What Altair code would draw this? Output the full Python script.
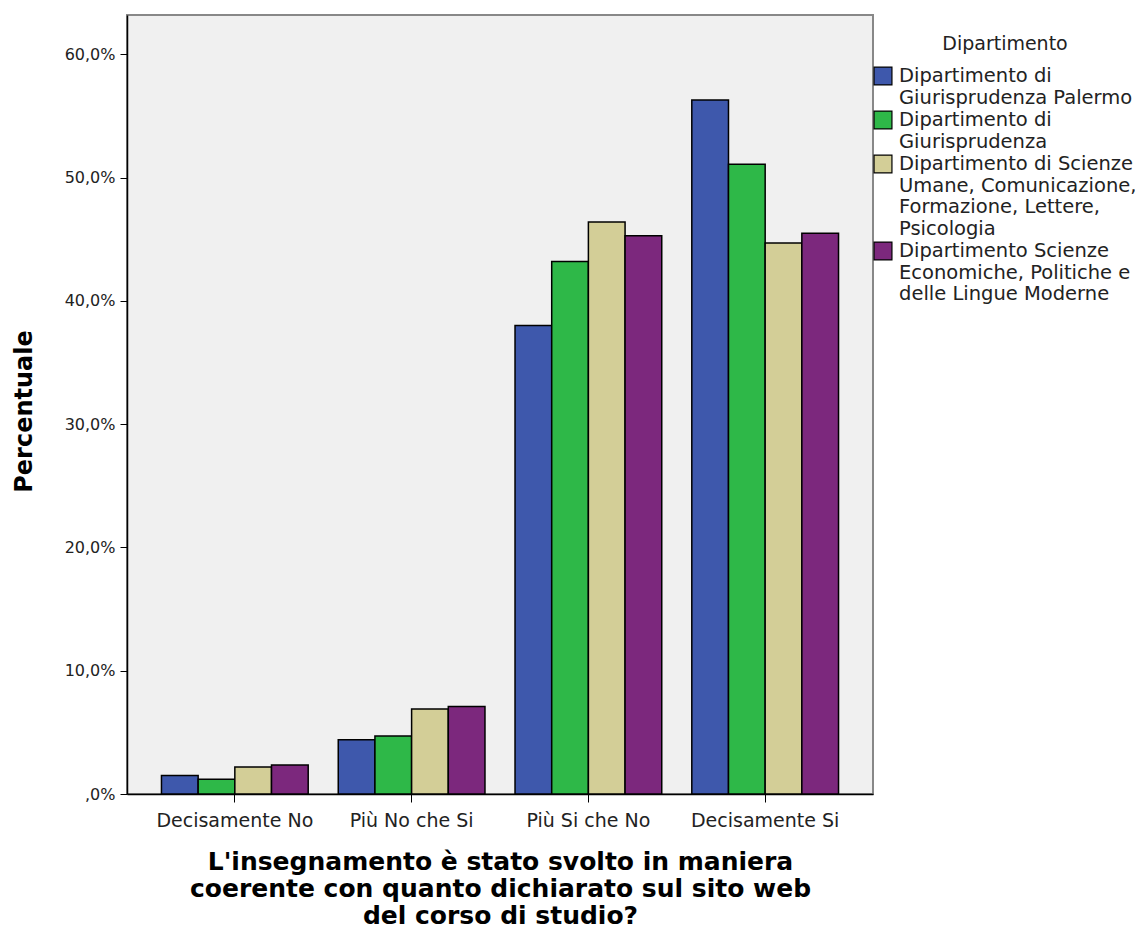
import altair as alt
import pandas as pd

categories = ["Decisamente No", "Più No che Si", "Più Si che No", "Decisamente Si"]
departments = [
    "Dipartimento di\nGiurisprudenza Palermo",
    "Dipartimento di\nGiurisprudenza",
    "Dipartimento di Scienze\nUmane, Comunicazione,\nFormazione, Lettere,\nPsicologia",
    "Dipartimento Scienze\nEconomiche, Politiche e\ndelle Lingue Moderne",
]
colors = ["#3e58ac", "#2eb848", "#d3ce97", "#7c287d"]

# percent values per department, in category order
palermo = [1.5, 4.4, 38.0, 56.3]
giurisprudenza = [1.2, 4.7, 43.2, 51.1]
scienze_umane = [2.2, 6.9, 46.4, 44.7]
economiche = [2.35, 7.1, 45.3, 45.5]

series = [palermo, giurisprudenza, scienze_umane, economiche]
rows = []
for dep, vals in zip(departments, series):
    for cat, v in zip(categories, vals):
        rows.append({"Categoria": cat, "Dipartimento": dep, "Percentuale": v})
df = pd.DataFrame(rows)

FONT = "DejaVu Sans"

chart = alt.Chart(df).mark_bar(stroke="black", strokeWidth=1.5).encode(
    x=alt.X(
        "Categoria:N",
        sort=categories,
        scale=alt.Scale(paddingInner=0.17, paddingOuter=0.195),
        axis=alt.Axis(
            title=["L'insegnamento è stato svolto in maniera",
                   "coerente con quanto dichiarato sul sito web",
                   "del corso di studio?"],
            labelAngle=0,
            labelFontSize=19,
            labelColor="#222",
            labelPadding=9,
            tickSize=8,
            tickColor="black",
            domainColor="black",
            domainWidth=1.5,
            titleFontSize=25,
            titleFontWeight="bold",
            titleLineHeight=27,
            titlePadding=19,
            titleColor="black",
        ),
    ),
    xOffset=alt.XOffset("Dipartimento:N", sort=departments,
                        scale=alt.Scale(paddingInner=0, paddingOuter=0)),
    y=alt.Y(
        "Percentuale:Q",
        scale=alt.Scale(domain=[0, 63.2], nice=False),
        axis=alt.Axis(
            title="Percentuale",
            values=[0, 10, 20, 30, 40, 50, 60],
            labelExpr="datum.value == 0 ? ',0%' : replace(format(datum.value, '.1f'), '.', ',') + '%'",
            labelFontSize=16,
            labelColor="#222",
            labelPadding=5,
            tickSize=7,
            tickColor="black",
            domainColor="black",
            domainWidth=1.5,
            grid=False,
            titleFontSize=24,
            titleFontWeight="bold",
            titlePadding=28,
            titleY=396,
            titleColor="black",
        ),
    ),
    color=alt.Color(
        "Dipartimento:N",
        sort=departments,
        scale=alt.Scale(domain=departments, range=colors),
        legend=alt.Legend(
            title="Dipartimento",
            orient="none",
            legendX=746,
            legendY=20,
            titleFontSize=19,
            titleFontWeight="normal",
            titleColor="#222",
            titleAnchor="middle",
            titlePadding=12,
            labelExpr="split(datum.label, '\\n')",
            labelFontSize=19.5,
            labelColor="#222",
            labelLimit=0,
            labelOffset=6,
            symbolType="square",
            symbolSize=320,
            symbolStrokeColor="black",
            symbolStrokeWidth=1.2,
            symbolOpacity=1,
            rowPadding=1,
        ),
    ),
).properties(
    width=746,
    height=779,
    autosize=alt.AutoSizeParams(type="none"),
    padding={"left": 119, "top": 7, "right": 262, "bottom": 136},
).configure(
    font=FONT,
).configure_view(
    fill="#f0f0f0",
    stroke="#888888",
    strokeWidth=2,
).configure_axis(
    labelFont=FONT,
    titleFont=FONT,
).configure_legend(
    labelFont=FONT,
    titleFont=FONT,
)

chart.save("out.html", embed_options={"renderer": "svg", "actions": False})
